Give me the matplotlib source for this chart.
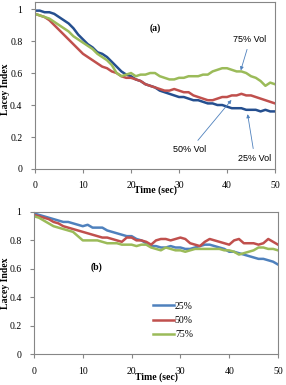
import numpy as np
import matplotlib
matplotlib.use("Agg")
import matplotlib.pyplot as plt

# time axis, 1 s steps
time = list(range(0, 51))

# panel (a)
a_25 = [0.99, 0.99, 0.98, 0.98, 0.97, 0.95, 0.93, 0.91, 0.88, 0.84, 0.81, 0.78, 0.76, 0.73, 0.72, 0.70, 0.67,
        0.64, 0.61, 0.59, 0.58, 0.56, 0.55, 0.53, 0.52, 0.51, 0.49, 0.48, 0.47, 0.46, 0.45, 0.45, 0.44, 0.43,
        0.43, 0.42, 0.41, 0.41, 0.40, 0.40, 0.39, 0.38, 0.38, 0.38, 0.37, 0.37, 0.37, 0.36, 0.37, 0.36, 0.36]
a_50 = [0.97, 0.96, 0.95, 0.93, 0.90, 0.87, 0.84, 0.81, 0.78, 0.75, 0.72, 0.70, 0.68, 0.66, 0.64, 0.63, 0.61,
        0.60, 0.58, 0.57, 0.57, 0.56, 0.55, 0.53, 0.52, 0.51, 0.50, 0.49, 0.49, 0.50, 0.49, 0.48, 0.48, 0.46,
        0.45, 0.44, 0.43, 0.43, 0.44, 0.45, 0.45, 0.46, 0.46, 0.47, 0.46, 0.46, 0.45, 0.44, 0.43, 0.42, 0.41]
a_75 = [0.97, 0.96, 0.95, 0.94, 0.92, 0.90, 0.88, 0.86, 0.83, 0.81, 0.79, 0.77, 0.75, 0.72, 0.70, 0.68, 0.65,
        0.60, 0.58, 0.59, 0.60, 0.58, 0.59, 0.59, 0.60, 0.60, 0.58, 0.57, 0.56, 0.56, 0.57, 0.57, 0.58, 0.58,
        0.58, 0.59, 0.59, 0.61, 0.62, 0.63, 0.63, 0.62, 0.61, 0.61, 0.60, 0.58, 0.57, 0.55, 0.52, 0.54, 0.53]

# panel (b)
b_25 = [0.99, 0.98, 0.97, 0.96, 0.95, 0.94, 0.93, 0.93, 0.92, 0.91, 0.90, 0.91, 0.89, 0.89, 0.89, 0.87, 0.86,
        0.85, 0.84, 0.83, 0.83, 0.81, 0.80, 0.78, 0.76, 0.76, 0.75, 0.75, 0.76, 0.75, 0.75, 0.74, 0.74, 0.75,
        0.76, 0.77, 0.77, 0.76, 0.75, 0.74, 0.72, 0.72, 0.71, 0.70, 0.69, 0.68, 0.67, 0.67, 0.66, 0.65, 0.63]
b_50 = [0.98, 0.97, 0.96, 0.95, 0.93, 0.92, 0.90, 0.89, 0.88, 0.87, 0.86, 0.85, 0.84, 0.83, 0.82, 0.82, 0.81,
        0.80, 0.79, 0.82, 0.82, 0.80, 0.80, 0.79, 0.77, 0.80, 0.81, 0.81, 0.80, 0.81, 0.82, 0.81, 0.78, 0.77,
        0.76, 0.79, 0.81, 0.80, 0.79, 0.78, 0.77, 0.80, 0.81, 0.78, 0.78, 0.78, 0.77, 0.78, 0.81, 0.79, 0.77]
b_75 = [0.97, 0.96, 0.94, 0.92, 0.90, 0.89, 0.88, 0.87, 0.86, 0.83, 0.80, 0.80, 0.80, 0.80, 0.79, 0.78, 0.78,
        0.78, 0.77, 0.77, 0.77, 0.76, 0.77, 0.77, 0.75, 0.74, 0.73, 0.75, 0.74, 0.73, 0.73, 0.72, 0.73, 0.74,
        0.74, 0.74, 0.74, 0.74, 0.74, 0.73, 0.73, 0.72, 0.70, 0.71, 0.72, 0.73, 0.75, 0.75, 0.74, 0.74, 0.73]

labels = ["25%", "50%", "75%"]
xticks = [0, 10, 20, 30, 40, 50]
yticks = [0, 0.2, 0.4, 0.6, 0.8, 1]
ytick_labels = ["0", "0.2", "0.4", "0.6", "0.8", "1"]

serif = "Liberation Serif"
sans = "Liberation Sans"
grey = "#868686"


def style_axes(ax, ytop, label_x):
    ax.set_xlim(0, 50)
    ax.set_ylim(0, ytop)
    ax.set_xticks(xticks)
    ax.set_xticklabels([str(v) for v in xticks], family=serif, fontsize=7)
    ax.set_yticks(yticks)
    ax.set_yticklabels(ytick_labels, family=serif, fontsize=7)
    ax.tick_params(direction="out", length=3, width=0.8, color=grey, pad=6)
    for s in ax.spines.values():
        s.set_color(grey)
        s.set_linewidth(0.8)
    ax.set_ylabel("Lacey Index", family=serif, fontsize=7, fontweight="bold")
    ax.yaxis.set_label_coords(label_x, 0.5 / ytop)


fig = plt.figure(figsize=(2.86, 3.85), dpi=100)

# ---- panel (a)
ax1 = fig.add_axes([35 / 286, 1 - 169 / 385, 240 / 286, 167 / 385])
ax1.plot(time, a_25, color="#254F8F", lw=1.8)
ax1.plot(time, a_50, color="#C0504D", lw=1.8)
ax1.plot(time, a_75, color="#9BBB59", lw=1.8)
style_axes(ax1, 1.044, -0.105)
ax1.text(25, 0.88, "(a)", family=serif, fontsize=7, fontweight="bold", ha="center", va="center")
ax1.set_xlabel("Time (sec)", family=serif, fontsize=7, fontweight="bold", labelpad=-4)

arr = dict(arrowstyle="-|>", color="#4F81BD", lw=0.6, mutation_scale=5)
ax1.annotate("75% Vol", xy=(42.7, 0.60), xytext=(44.8, 0.81), family=sans, fontsize=6.5,
             ha="center", va="center", arrowprops=arr)
ax1.annotate("50% Vol", xy=(41.3, 0.445), xytext=(32.3, 0.12), family=sans, fontsize=6.5,
             ha="center", va="center", arrowprops=arr)
ax1.annotate("25% Vol", xy=(44.2, 0.36), xytext=(45.8, 0.065), family=sans, fontsize=6.5,
             ha="center", va="center", arrowprops=arr)

# ---- panel (b)
ax2 = fig.add_axes([34 / 286, 1 - 354 / 385, 244 / 286, 142 / 385])
ax2.plot(time, b_25, color="#4F81BD", lw=1.8, label=labels[0])
ax2.plot(time, b_50, color="#C0504D", lw=1.8, label=labels[1])
ax2.plot(time, b_75, color="#9BBB59", lw=1.8, label=labels[2])
style_axes(ax2, 1.0, -0.1)
ax2.text(12.9, 0.61, "(b)", family=serif, fontsize=7, fontweight="bold", ha="center", va="center")
ax2.set_xlabel("Time (sec)", family=serif, fontsize=7, fontweight="bold", labelpad=-2)
ax2.legend(loc="upper left", bbox_to_anchor=(0.45, 0.43), frameon=False, handlelength=2.2,
           handletextpad=0.1, labelspacing=0.55, prop={"family": serif, "size": 7})

fig.savefig("out.png", dpi=100)
